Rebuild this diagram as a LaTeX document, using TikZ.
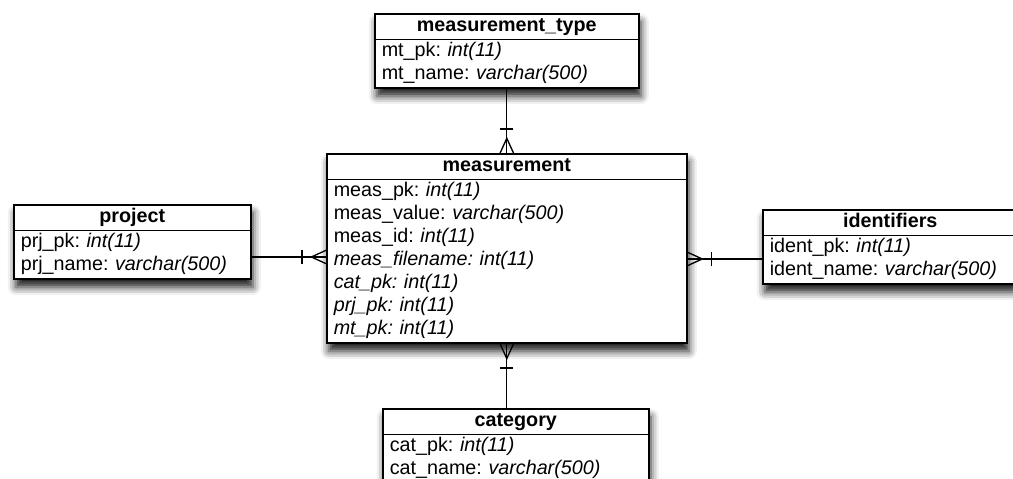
\documentclass[tikz,border=0pt]{standalone}
\usepackage{fontspec}
\setmainfont{Liberation Sans}
\usetikzlibrary{shapes.multipart, shadows.blur, decorations.markings}

\tikzset{>=latex}
\tikzset{
  table/.style={rectangle split, rectangle split parts=2, draw, line width=1.2pt,
    fill=white, anchor=north west, inner xsep=5.25pt, inner ysep=0.4pt, align=left,
    font=\fontsize{14.8}{17.25}\selectfont\frenchspacing,
    blur shadow={shadow xshift=1.5pt, shadow yshift=-6pt,
      shadow blur radius=6pt, shadow opacity=90}},
  % one-to-many: bar plus crow's foot at the end of the path
  link/.style={line width=1pt, postaction={decorate}, decoration={markings,
    mark=at position 1 with {
      \draw[line width=1pt] (0,5pt) -- (-11pt,0) -- (0,-5pt);
      \draw[line width=1pt] (-18pt,5pt) -- (-18pt,-5pt);}}}
}
\newcommand{\thead}[1]{\makebox[\hsize][c]{\strut\textbf{#1}}}

\begin{document}
\begin{tikzpicture}[x=0.75pt, y=-0.75pt]
  \useasboundingbox (0,0) rectangle (1013,478);
  \node[table, text width=187.5pt] (mtype) at (374,13)
    {\thead{measurement\_type}\nodepart{second}%
     \strut mt\_pk: \textit{int(11)}\\
     \strut mt\_name: \textit{varchar(500)}};
  \node[table, text width=259.5pt] (meas) at (326,153)
    {\thead{measurement}\nodepart{second}%
     \strut meas\_pk: \textit{int(11)}\\
     \strut meas\_value: \textit{varchar(500)}\\
     \strut meas\_id: \textit{int(11)}\\
     \strut\textit{meas\_filename: int(11)}\\
     \strut\textit{cat\_pk: int(11)}\\
     \strut\textit{prj\_pk: int(11)}\\
     \strut\textit{mt\_pk: int(11)}};
  \node[table, text width=167.25pt] (project) at (13,204)
    {\thead{project}\nodepart{second}%
     \strut prj\_pk: \textit{int(11)}\\
     \strut prj\_name: \textit{varchar(500)}};
  \node[table, text width=180.75pt] (ident) at (762,209)
    {\thead{identifiers}\nodepart{second}%
     \strut ident\_pk: \textit{int(11)}\\
     \strut ident\_name: \textit{varchar(500)}};
  \node[table, text width=189pt] (category) at (382,408)
    {\thead{category}\nodepart{second}%
     \strut cat\_pk: \textit{int(11)}\\
     \strut cat\_name: \textit{varchar(500)}};

  \draw[link] (mtype) -- (meas);
  \draw[link] (category.north -| meas.south) -- (meas.south);
  \draw[link] ([yshift=-11.25pt]project.east) -- ([yshift=-11.25pt]project.east -| meas.west);
  \draw[link] ([yshift=-9pt]ident.west) -- ([yshift=-9pt]ident.west -| meas.east);
\end{tikzpicture}
\end{document}
